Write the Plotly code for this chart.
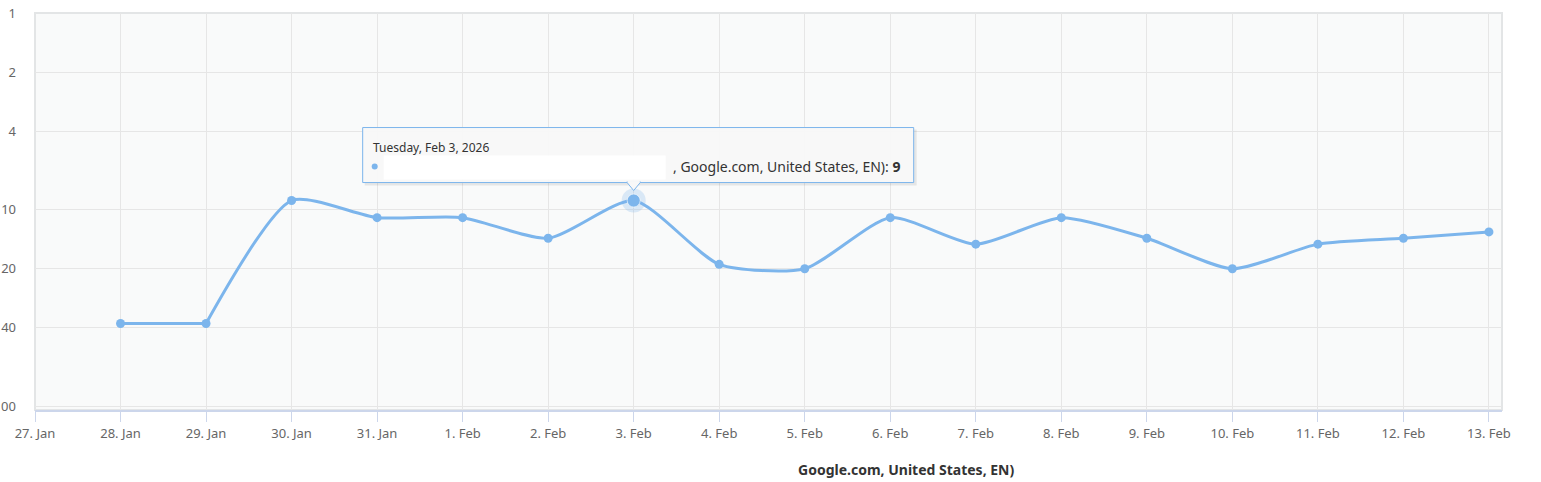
import math
import plotly.graph_objects as go

dates = ["2026-01-28", "2026-01-29", "2026-01-30", "2026-01-31", "2026-02-01", "2026-02-02",
         "2026-02-03", "2026-02-04", "2026-02-05", "2026-02-06", "2026-02-07", "2026-02-08",
         "2026-02-09", "2026-02-10", "2026-02-11", "2026-02-12", "2026-02-13"]
positions = [38, 38, 9, 11, 11, 14, 9, 19, 20, 11, 15, 11, 14, 20, 15, 14, 13]
y_ticks = [1, 2, 4, 10, 20, 40, 100]
y_ticktext = ["1", "2", "4", "10", "20", "40", "100"]
hover_idx = 6
tooltip_header = "Tuesday, Feb 3, 2026"
tooltip_body = ", Google.com, United States, EN): <b>9</b>"
legend_text = "Google.com, United States, EN)"

LINE = "#7cb5ec"
FONT = "Noto Sans"

fig = go.Figure()
# flat start segment (equal values) drawn straight, rest as spline
fig.add_trace(go.Scatter(
    x=dates[:2], y=positions[:2], mode="lines",
    line=dict(color=LINE, width=3), showlegend=False, hoverinfo="skip"))
fig.add_trace(go.Scatter(
    x=dates[1:], y=positions[1:], mode="lines",
    line=dict(color=LINE, width=3, shape="spline", smoothing=0.65),
    showlegend=False, hoverinfo="skip"))
fig.add_trace(go.Scatter(
    x=dates, y=positions, mode="markers",
    marker=dict(size=9, color=LINE), showlegend=False, hoverinfo="skip"))
# hovered point halo
fig.add_trace(go.Scatter(
    x=[dates[hover_idx]], y=[positions[hover_idx]], mode="markers",
    marker=dict(size=24, color="rgba(124,181,236,0.25)"), showlegend=False, hoverinfo="skip"))
fig.add_trace(go.Scatter(
    x=[dates[hover_idx]], y=[positions[hover_idx]], mode="markers",
    marker=dict(size=13, color=LINE, line=dict(color="rgba(255,255,255,0.6)", width=1)),
    showlegend=False, hoverinfo="skip"))

hx, hy = dates[hover_idx], positions[hover_idx]
hy_log = math.log10(hy)
shape_common = dict(xref="x", yref="y", xsizemode="pixel", ysizemode="pixel",
                    xanchor=hx, yanchor=hy)
# tooltip shadow
fig.add_shape(type="rect", x0=-269, x1=283, y0=15, y1=71, line=dict(width=0),
              fillcolor="rgba(0,0,0,0.08)", layer="above", **shape_common)
# tooltip box
fig.add_shape(type="rect", x0=-271, x1=280, y0=18, y1=73,
              line=dict(color=LINE, width=1), fillcolor="rgba(248,248,248,0.97)",
              layer="above", **shape_common)
# pointer
fig.add_shape(type="path", path="M -7,18.5 L 0,10 L 7,18.5 Z",
              line=dict(color=LINE, width=1), fillcolor="rgba(248,248,248,1)",
              layer="above", **shape_common)
fig.add_shape(type="rect", x0=-6, x1=6, y0=17.5, y1=19.5, line=dict(width=0),
              fillcolor="rgba(248,248,248,1)", layer="above", **shape_common)
# redacted area
fig.add_shape(type="rect", x0=-250, x1=32, y0=21, y1=45, line=dict(width=0),
              fillcolor="white", layer="above", **shape_common)
# series dot in tooltip
fig.add_shape(type="circle", x0=-262, x1=-256, y0=31, y1=37, line=dict(width=0),
              fillcolor=LINE, layer="above", **shape_common)

fig.add_annotation(x=hx, y=hy_log, xref="x", yref="y", text=tooltip_header, showarrow=False,
                   xanchor="left", yanchor="middle", xshift=-263, yshift=53,
                   font=dict(family=FONT, size=12, color="#333333"))
fig.add_annotation(x=hx, y=hy_log, xref="x", yref="y", text=tooltip_body, showarrow=False,
                   xanchor="right", yanchor="middle", xshift=268, yshift=34,
                   font=dict(family=FONT, size=14, color="#333333"))

# plot border
fig.add_shape(type="rect", xref="paper", yref="paper", x0=0, x1=1, y0=0, y1=1,
              line=dict(color="#e3e5e6", width=2), layer="below")

fig.add_annotation(x=0.594, y=0, xref="paper", yref="paper", text="<b>" + legend_text + "</b>",
                   showarrow=False, xanchor="center", yanchor="middle", yshift=-59,
                   font=dict(family=FONT, size=14, color="#333333"))

fig.update_layout(
    width=1541, height=482,
    margin=dict(l=35, r=39, t=13, b=72, autoexpand=False),
    paper_bgcolor="white", plot_bgcolor="#f9fafa",
    font=dict(family=FONT, size=12, color="#666666"),
    xaxis=dict(type="date", range=["2026-01-27", "2026-02-13 03:40"],
               tick0="2026-01-27", dtick=86400000, tickformat="%-d. %b",
               showgrid=True, gridcolor="#e6e6e6", gridwidth=1,
               ticks="outside", ticklen=10, tickcolor="#ccd6eb",
               showline=True, linecolor="#ccd6eb", linewidth=2, automargin=False,
               tickfont=dict(family=FONT, size=13, color="#666666"), zeroline=False),
    yaxis=dict(type="log", range=[2.02, 0], tickvals=y_ticks, ticktext=y_ticktext,
               showgrid=True, gridcolor="#e6e6e6", gridwidth=1, ticks="",
               ticklabelstandoff=18, showline=False, zeroline=False, automargin=False,
               tickfont=dict(family=FONT, size=13, color="#666666")),
)

fig.write_html("out.html")
